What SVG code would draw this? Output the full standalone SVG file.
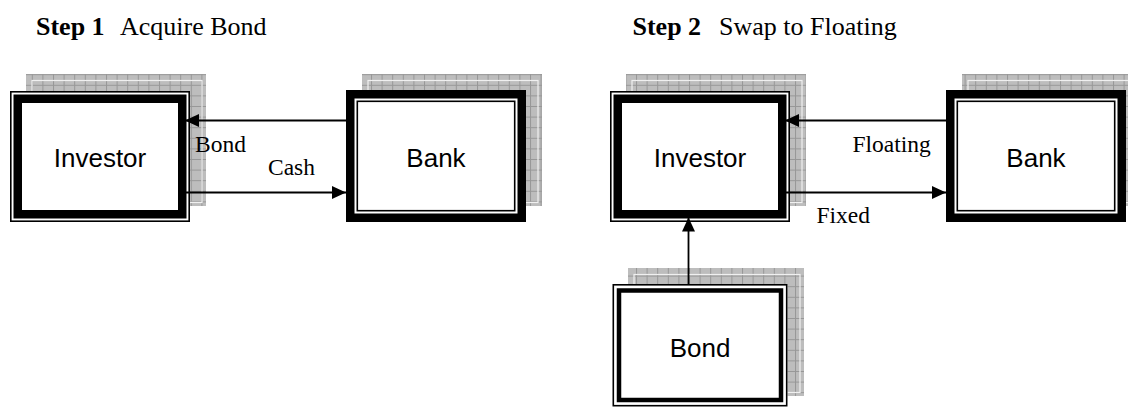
<svg xmlns="http://www.w3.org/2000/svg" width="1128" height="407" viewBox="0 0 1128 407">
  <style>
    .head { font-family: "Liberation Serif", "Times New Roman", serif; font-size: 26px; fill: #000; }
    .head-b { font-weight: bold; }
    .lbl { font-family: "Liberation Serif", "Times New Roman", serif; font-size: 23.5px; fill: #000; }
    .name { font-family: "Liberation Sans", Arial, sans-serif; font-size: 26px; fill: #000; text-anchor: middle; }
    .shadow { fill: url(#grid); }
    .shadow-edge { fill: none; stroke: #f0f0f0; stroke-width: 1.2; }
    .thin { fill: none; stroke: #000; stroke-width: 1.6; }
    .thick { fill: none; stroke: #000; stroke-width: 8.5; }
    .mid { fill: none; stroke: #000; stroke-width: 4.5; }
    .face { fill: #fff; }
    .conn { stroke: #000; stroke-width: 1.8; fill: none; marker-end: url(#arrow); }
  </style>
  <defs>
    <pattern id="grid" patternUnits="userSpaceOnUse" width="10.6" height="10.6">
      <rect width="10.6" height="10.6" fill="#bdbdbd"/>
      <path d="M0 0.5H10.6M0.5 0V10.6" stroke="#979797" stroke-width="1"/>
    </pattern>
    <marker id="arrow" markerUnits="userSpaceOnUse" markerWidth="15" markerHeight="14" refX="14" refY="6.5" orient="auto">
      <path d="M0 0L14 6.5L0 13Z" fill="#000"/>
    </marker>
  </defs>

  <!-- headings -->
  <text class="head head-b" x="36" y="35">Step 1</text>
  <text class="head" x="120" y="35">Acquire Bond</text>
  <text class="head head-b" x="632.5" y="35">Step 2</text>
  <text class="head" x="719" y="35">Swap to Floating</text>

  <!-- Step 1: Investor (thin outer line, heavy inner frame) -->
  <g id="investor1">
    <rect class="shadow" x="26" y="74" width="180" height="132"/>
    <rect class="shadow-edge" x="32" y="80.5" width="170" height="122"/>
    <rect class="face" x="10" y="91" width="180" height="131"/>
    <rect class="thin" x="10.8" y="91.8" width="178.4" height="129.4"/>
    <rect class="thick" x="17.75" y="98.75" width="164.5" height="115.5"/>
    <text class="name" x="100" y="167">Investor</text>
  </g>

  <!-- Step 1: Bank (heavy outer frame, thin inner line) -->
  <g id="bank1">
    <rect class="shadow" x="362" y="74" width="180" height="132"/>
    <rect class="shadow-edge" x="368" y="80.5" width="170" height="122"/>
    <rect class="face" x="346" y="90" width="180" height="132"/>
    <rect class="thick" x="350.25" y="94.25" width="171.5" height="123.5"/>
    <rect class="thin" x="357.3" y="101.3" width="157.4" height="109.4"/>
    <text class="name" x="436" y="167">Bank</text>
  </g>

  <!-- Step 2: Investor -->
  <g id="investor2">
    <rect class="shadow" x="626" y="74" width="180" height="132"/>
    <rect class="shadow-edge" x="632" y="80.5" width="170" height="122"/>
    <rect class="face" x="610" y="91" width="180" height="131"/>
    <rect class="thin" x="610.8" y="91.8" width="178.4" height="129.4"/>
    <rect class="thick" x="617.75" y="98.75" width="164.5" height="115.5"/>
    <text class="name" x="700" y="167">Investor</text>
  </g>

  <!-- Step 2: Bank -->
  <g id="bank2">
    <rect class="shadow" x="962" y="74" width="180" height="132"/>
    <rect class="shadow-edge" x="968" y="80.5" width="170" height="122"/>
    <rect class="face" x="946" y="90" width="180" height="132"/>
    <rect class="thick" x="950.25" y="94.25" width="171.5" height="123.5"/>
    <rect class="thin" x="957.3" y="101.3" width="157.4" height="109.4"/>
    <text class="name" x="1036" y="167">Bank</text>
  </g>

  <!-- Step 2: Bond -->
  <g id="bond">
    <rect class="shadow" x="628" y="268" width="176" height="128"/>
    <rect class="shadow-edge" x="634" y="274.5" width="166" height="118"/>
    <rect class="face" x="612.5" y="284" width="175" height="122.5"/>
    <rect class="thin" x="613.3" y="284.8" width="173.4" height="120.9"/>
    <rect class="mid" x="619" y="290.5" width="162" height="109.5"/>
    <text class="name" x="700" y="357">Bond</text>
  </g>

  <!-- connectors -->
  <g id="connectors">
    <line class="conn" x1="346" y1="120.5" x2="185" y2="120.5"/>
    <line class="conn" x1="186" y1="192.5" x2="346" y2="192.5"/>
    <line class="conn" x1="946" y1="120.5" x2="785" y2="120.5"/>
    <line class="conn" x1="786" y1="192.5" x2="946" y2="192.5"/>
    <line class="conn" x1="688.5" y1="284" x2="688.5" y2="217.5"/>
  </g>

  <!-- connector labels -->
  <text class="lbl" x="195" y="151.5">Bond</text>
  <text class="lbl" x="268" y="175">Cash</text>
  <text class="lbl" x="852.5" y="151.5">Floating</text>
  <text class="lbl" x="816.5" y="222.5">Fixed</text>
</svg>
